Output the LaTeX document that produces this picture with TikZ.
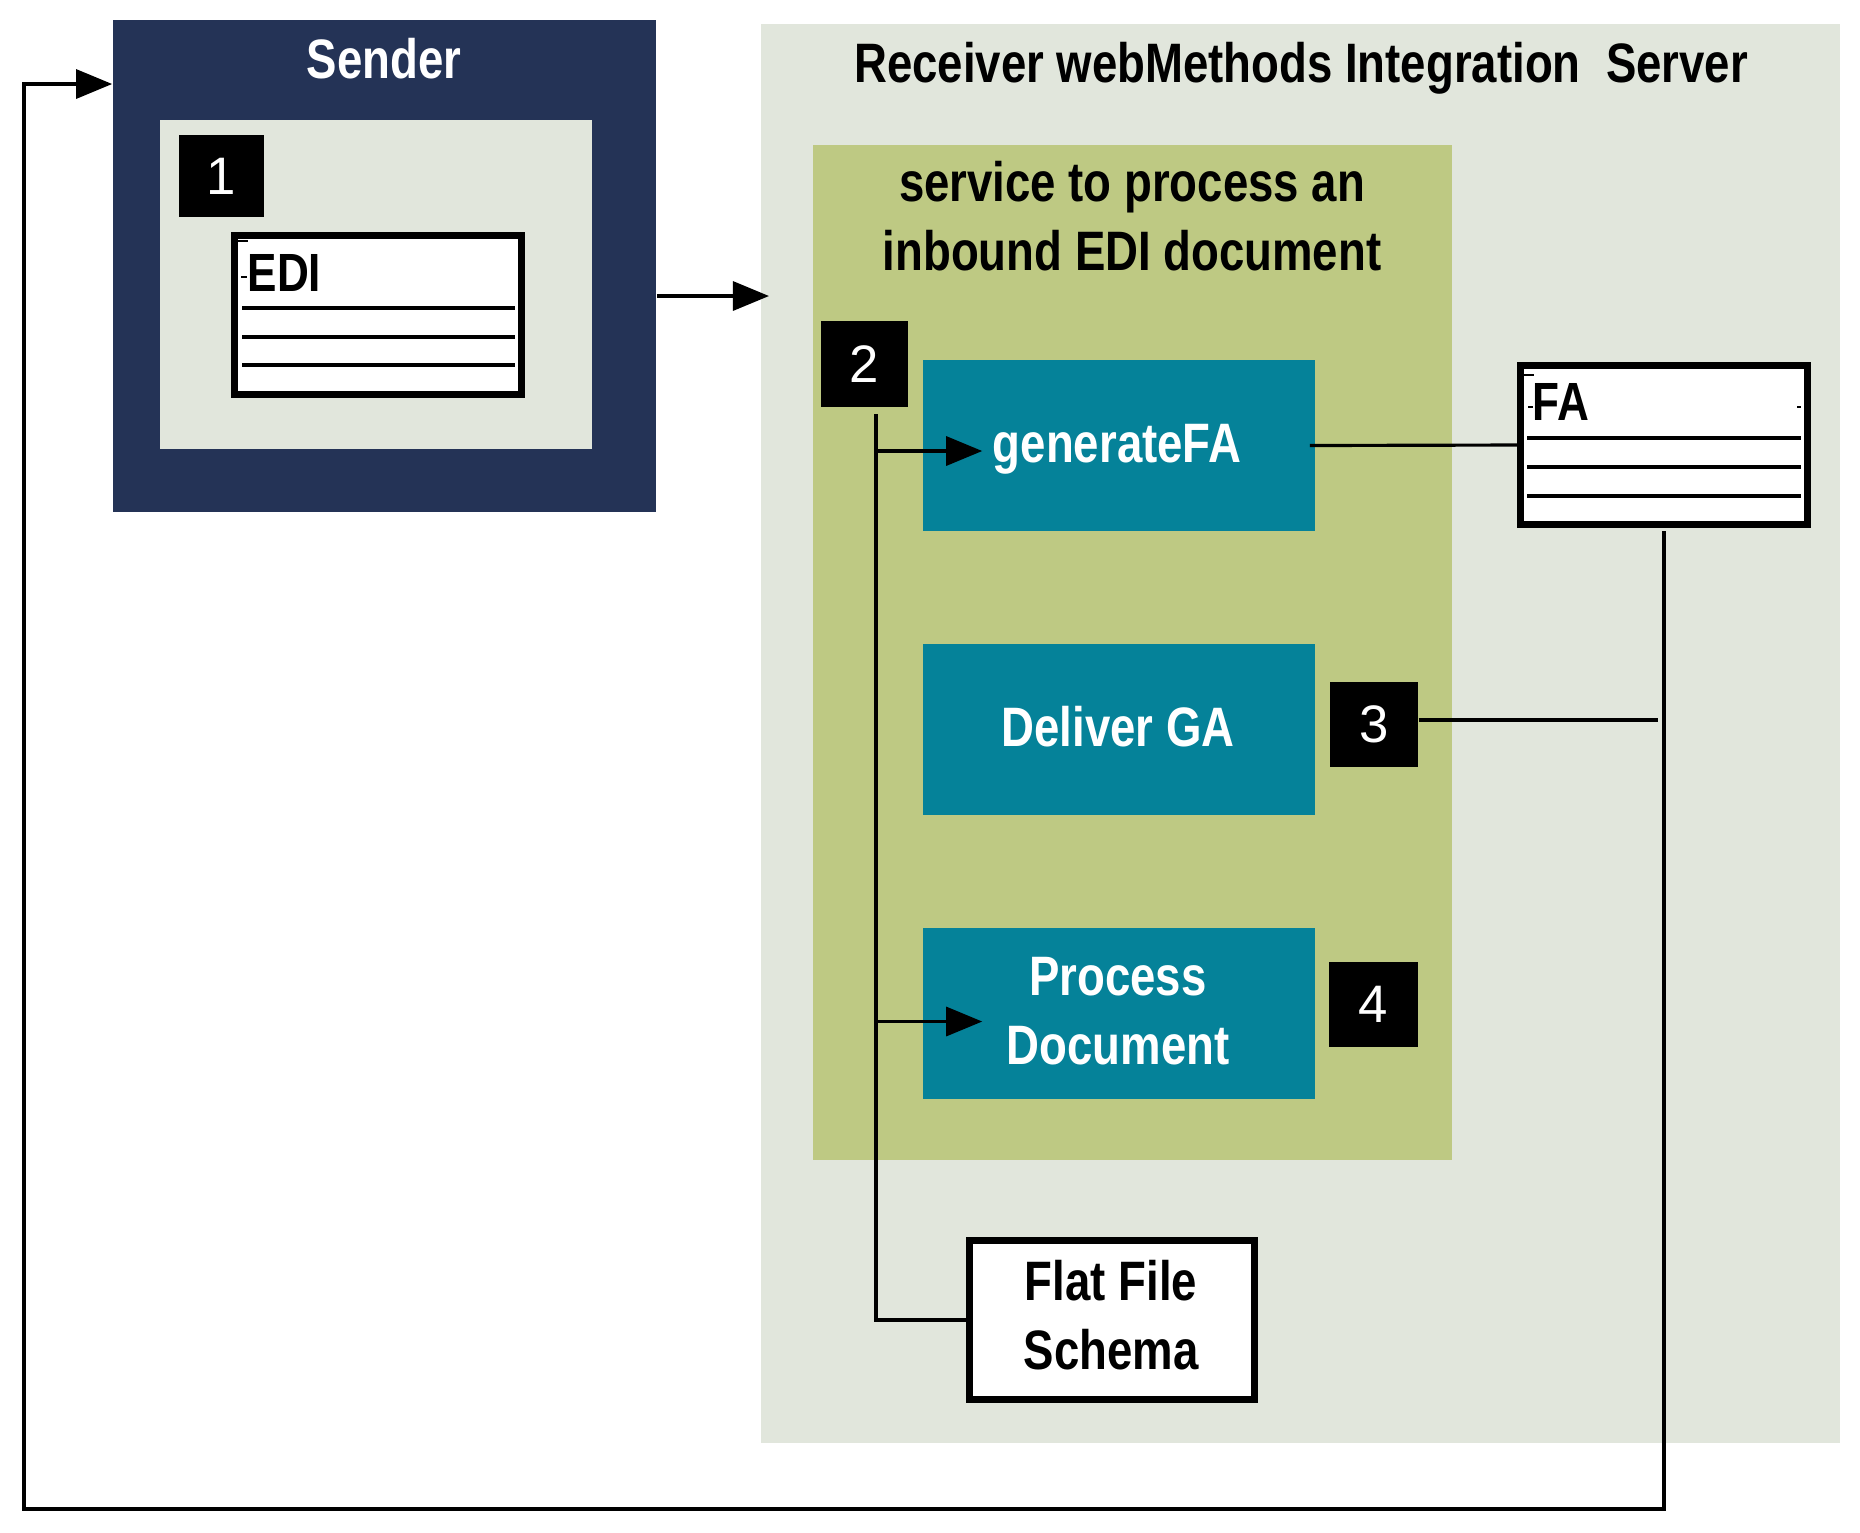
\documentclass[tikz,border=0pt]{standalone}
\usepackage{fontspec}
\setmainfont{Liberation Sans}
\newfontfamily\narrowfont{Liberation Sans}[FakeStretch=0.82]
\usepackage{tikz}
\usetikzlibrary{shapes,backgrounds,positioning,arrows.meta}
\usepackage{xcolor}
\definecolor{sendernavy}{RGB}{36,51,86}
\definecolor{serverbg}{RGB}{225,230,220}
\definecolor{servicebg}{RGB}{190,201,131}
\definecolor{steppetrol}{RGB}{5,130,153}

\begin{document}
\begin{tikzpicture}[x=0.01cm,y=-0.01cm,
    boldtext/.style={font=\narrowfont\bfseries\fontsize{15.8}{19.6}\selectfont, align=center, inner sep=0pt},
    doctext/.style={font=\narrowfont\bfseries\fontsize{15.3}{19.6}\selectfont, inner sep=0pt},
    badge/.style={fill=black, text=white, font=\fontsize{15}{18}\selectfont, inner sep=0pt},
    stepbox/.style={fill=steppetrol, minimum width=3.92cm, minimum height=1.70cm, inner sep=0pt},
    docbox/.style={draw=black, fill=white, line width=2pt, minimum width=2.87cm, minimum height=1.59cm, inner sep=0pt},
    docline/.style={line width=0.9pt},
    wire/.style={line width=0.9pt},
    arr/.style={-{Triangle[length=0.36cm,width=0.29cm]}}]
            \useasboundingbox (0,0) rectangle (1860,1532);

            \node[fill=sendernavy, minimum width=5.43cm, minimum height=4.92cm, inner sep=0pt] (sender) at (384.5,266) {};
            \node[boldtext, text=white, anchor=base] (sendertitle) at (384,78) {Sender};
            \node[fill=serverbg, minimum width=4.32cm, minimum height=3.29cm, inner sep=0pt] (senderin) at (376,284.5) {};
            \node[badge, minimum width=0.85cm, minimum height=0.82cm] (b1) at (221.5,176) {1};
            \node[docbox] (edi) at (378,315) {};
            \node[doctext, anchor=base west] (editxt) at (247,291) {EDI};
            \foreach \y in {308,337,365}
                \draw[docline] (242,\y) -- (515,\y);
            \draw[line width=0.6pt] (238,241) -- (248,241) (241,277) -- (247,277);

            \node[fill=serverbg, minimum width=10.79cm, minimum height=14.19cm, inner sep=0pt] (receiver) at (1300.5,733.5) {};
            \node[boldtext, anchor=base] (receivertitle) at (1301,82) {Receiver webMethods Integration\ \ Server};
            \node[fill=servicebg, minimum width=6.39cm, minimum height=10.15cm, inner sep=0pt] (service) at (1132.5,652.5) {};
            \node[boldtext, anchor=base] (servicetitle) at (1132,270) {service to process an\\inbound EDI document};

            \node[badge, minimum width=0.87cm, minimum height=0.86cm] (b2) at (864.5,364) {2};
            \node[stepbox] (gen) at (1119,445.5) {};
            \node[boldtext, text=white, anchor=base] (gentxt) at (1117,462) {generateFA};
            \node[stepbox] (deliver) at (1119,729.5) {};
            \node[boldtext, text=white, anchor=base] (delivertxt) at (1118,746) {Deliver GA};
            \node[stepbox] (proc) at (1119,1013.5) {};
            \node[boldtext, text=white, anchor=base] (proctxt) at (1118,1064) {Process\\Document};
            \node[badge, minimum width=0.88cm, minimum height=0.85cm] (b3) at (1374,724.5) {3};
            \node[badge, minimum width=0.88cm, minimum height=0.85cm] (b4) at (1373.5,1004.5) {4};

            \node[docbox] (fa) at (1664,445) {};
            \node[doctext, anchor=base west] (fatxt) at (1532,420) {FA};
            \foreach \y in {438,467,496}
                \draw[docline] (1527,\y) -- (1801,\y);
            \draw[line width=0.6pt] (1524,375) -- (1534,375) (1528,407) -- (1533,407) (1797,407) -- (1801,407);

            \node[docbox, minimum width=2.85cm] (ffs) at (1112,1320) {};
            \node[boldtext, anchor=base] (ffstxt) at (1111,1369) {Flat File\\Schema};

            \coordinate (recvin) at (769,296);
            \coordinate (trunk) at (876,414);
            \coordinate (j3) at (1658,720);
            \coordinate (loop) at (24,1509);
            \coordinate (back) at (24,84);

            \draw[wire,arr] (sender.east |- recvin) -- (recvin);
            \draw[wire] (trunk) |- ([xshift=0.06cm]ffs.west);
            \draw[wire,arr] ([yshift=-0.055cm]trunk |- gen.west) -- ([xshift=0.6cm,yshift=-0.055cm]gen.west);
            \draw[wire,arr] ([yshift=-0.08cm]trunk |- proc.west) -- ([xshift=0.6cm,yshift=-0.08cm]proc.west);
            \draw[wire] ([xshift=-0.06cm]gen.east) -- (fa.west);
            \draw[wire] (b3.east |- j3) -- (j3);
            \draw[wire,arr] ([yshift=-0.03cm]fa.south) |- (loop) -- (back) -- (sender.west |- back);
        \end{tikzpicture}
\end{document}
